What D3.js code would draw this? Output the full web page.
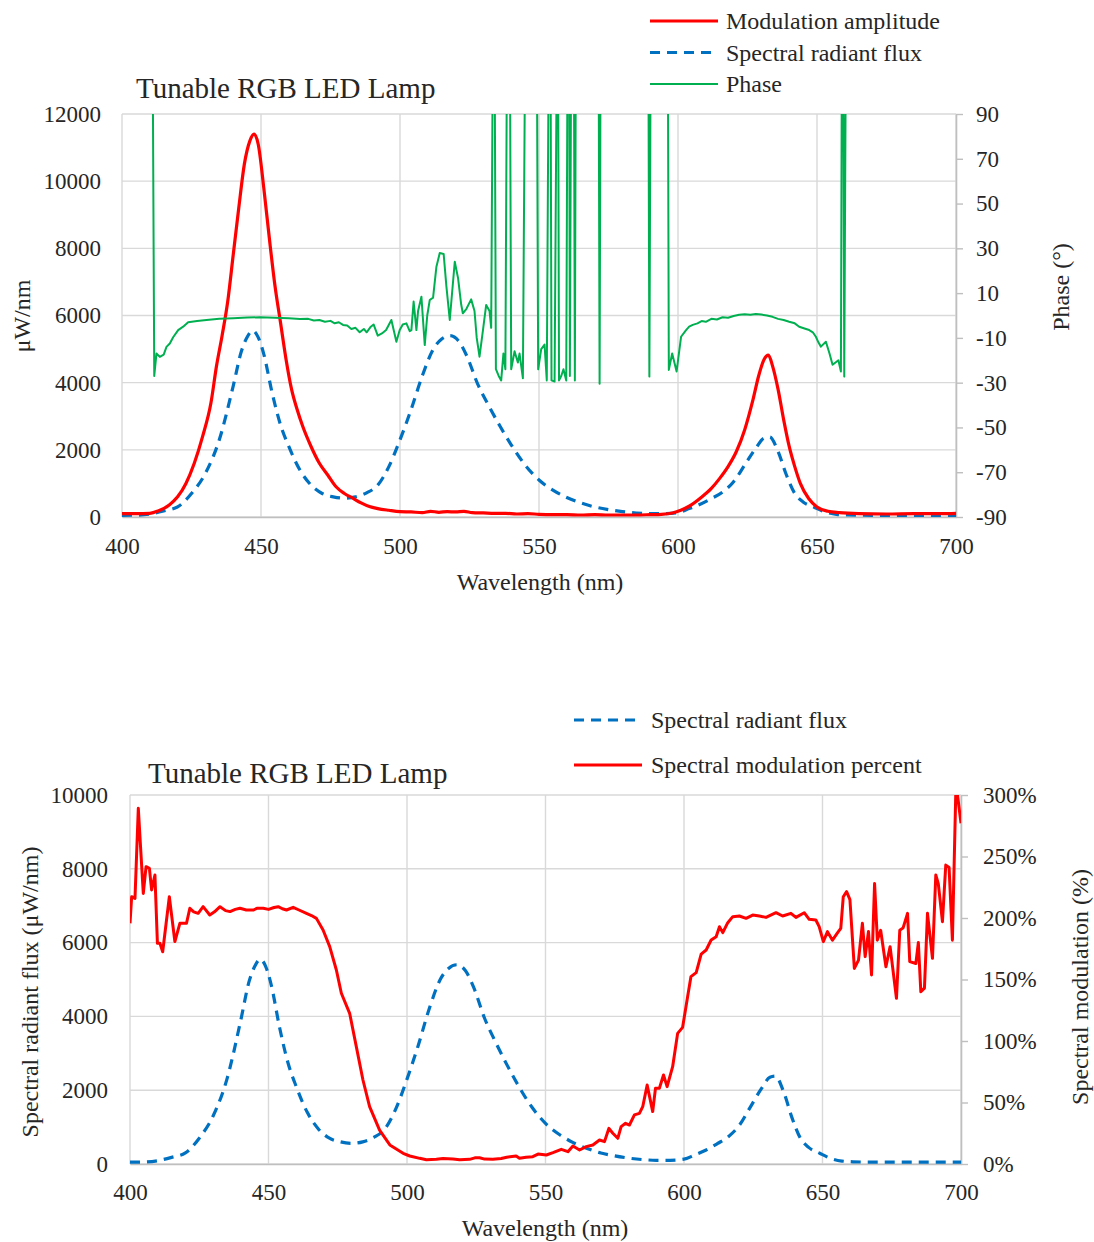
<!DOCTYPE html>
<html>
<head>
<meta charset="utf-8">
<script src="https://cdn.jsdelivr.net/npm/d3@7"></script>
<style>
  html, body { margin: 0; padding: 0; background: #fff; }
  svg text { font-family: "Liberation Serif", "Times New Roman", serif; fill: #262626; }
</style>
</head>
<body>
<svg id="chart" width="1094" height="1242"></svg>
<script>
// ---------------- DATA ----------------
const xTicks = [400, 450, 500, 550, 600, 650, 700];
const ampTicks = [0, 2000, 4000, 6000, 8000, 10000, 12000];
const phaseTicks = [-90, -70, -50, -30, -10, 10, 30, 50, 70, 90];
const fluxTicks = [0, 2000, 4000, 6000, 8000, 10000];
const pctTicks = [0, 50, 100, 150, 200, 250, 300];

const title = "Tunable RGB LED Lamp";

// Spectral radiant flux (µW/nm) [wavelength, value]
const fluxData = [
  [400,50],[405,55],[410,90],[415,180],[420,300],[425,700],[430,1300],[435,2300],[440,3900],
  [443,4950],[445,5350],[447,5550],[449,5350],[451,4850],[454,3700],[457,2750],[460,2100],
  [464,1400],[468,950],[472,700],[476,600],[480,560],[484,600],[488,720],[492,950],[496,1500],
  [500,2300],[504,3200],[508,4200],[512,5000],[515,5300],[518,5400],[521,5250],[524,4800],
  [528,3950],[532,3300],[536,2700],[540,2150],[545,1550],[550,1100],[555,800],[560,580],
  [565,420],[570,300],[575,220],[580,160],[585,120],[590,100],[595,100],[600,130],[604,250],
  [608,380],[612,550],[616,740],[620,1050],[624,1550],[628,2050],[631,2350],[633,2380],
  [636,1950],[639,1250],[642,700],[645,450],[649,290],[653,150],[657,80],[661,60],[670,50],
  [680,50],[690,50],[700,50]
];

// Modulation amplitude (µW/nm)
const ampData = [
  [400,100],[405,100],[410,110],[413,180],[417,360],[420,600],[423,1000],[426,1600],[429,2400],
  [432,3400],[434,4500],[436,5400],[438,6400],[440,7800],[442,9200],[444,10500],[446,11200],
  [447.5,11400],[449,11100],[451,9800],[453,8300],[455,6900],[457,5800],[459,4700],[461,3800],
  [463,3200],[465,2700],[468,2100],[471,1600],[474,1250],[477,900],[480,700],[483,560],[486,420],
  [489,310],[492,250],[496,200],[500,160],[504,150],[508,130],[511,170],[514,140],[517,160],
  [520,150],[523,170],[526,130],[530,120],[534,110],[538,110],[542,90],[546,100],[550,80],
  [555,70],[560,70],[565,60],[570,70],[575,60],[580,60],[585,60],[590,70],[594,80],[598,120],
  [601,200],[604,320],[608,560],[612,850],[615,1150],[618,1500],[621,1950],[624,2600],
  [627,3500],[629,4200],[631,4700],[632.5,4820],[634,4500],[636,3800],[638,2900],[640,2100],
  [642,1500],[644,1000],[647,550],[650,300],[654,170],[658,130],[665,100],[675,90],[685,100],
  [695,100],[700,110]
];

// Phase (°) — values of 100 lie above the axis maximum (clipped)
const phaseData = [
  [400,100],[411.1,100],[411.6,-27],[412.4,-17],[413.6,-18.5],[415,-17.5],[416,-14],[417.2,-12.5],
  [418.4,-9.7],[420.2,-6.5],[422,-5],[423.8,-3],[427,-2.5],[430.4,-2],[435,-1.5],[440,-1.2],
  [445,-0.9],[449.6,-0.8],[455,-1],[460,-1.2],[464,-1.6],[467,-1.5],[469,-2.2],[471,-2],
  [473,-2.8],[475,-2.4],[476.5,-3.5],[478,-3],[479.5,-4.2],[481,-4.5],[482.5,-6],[484,-5.5],
  [485.5,-7.5],[487,-6],[488,-7.5],[489.5,-5],[490.5,-4],[492,-9],[493.5,-8],[495,-6.5],
  [496.9,-2],[498.7,-11.7],[499.9,-6.5],[501,-4],[502.3,-3.5],[503.5,-7],[504.1,-6.5],
  [504.9,6.2],[505.9,-6.5],[506.5,2],[507.7,8.4],[508.9,-13.2],[509.8,0],[510.7,6.9],
  [511.9,8],[513.1,21.8],[514.3,27.9],[515.7,27.5],[516.7,12.9],[517.9,-2],[519.7,24],
  [520.9,16.6],[522,5],[522.6,1],[523.9,3],[525.6,7.2],[526.8,2],[527.6,-10],[528.6,-18.4],
  [529.8,-7],[531,4.7],[532.2,2],[532.8,-5.5],[533.3,100],[534.1,100],[534.5,-24],[535.5,-27],
  [536.4,-29],[537.2,-17],[537.9,-24],[538.4,100],[539.6,100],[540,-24],[541.2,-16],[542.4,-21],
  [543,-17],[544.2,-28],[544.9,100],[549.3,100],[549.7,-24],[550.8,-15],[552,-13],[552.8,-29],
  [553.4,100],[554.2,100],[554.5,-29],[555.6,-29.5],[556.3,100],[556.9,100],[557.2,-29],
  [558,-27],[558.8,-24],[559.8,-29],[560.2,100],[560.9,100],[561.1,-27],[561.5,100],
  [562.6,100],[562.9,-29],[563.2,100],[571.5,100],[571.8,-30.5],[572.1,100],[589.4,100],
  [589.7,-27.3],[590.1,100],[596.4,100],[596.7,-24.3],[597.9,-17],[599.5,-25],[601.1,-9.5],
  [602.9,-6.5],[604,-5],[605.3,-4.2],[607,-3.5],[608.5,-2.5],[610,-2.8],[612,-1.5],[614,-1.8],
  [616,-0.8],[618,-1],[620,-0.2],[622,0.3],[624,0.6],[626,0.3],[628,0.7],[630,0.4],[632,0],
  [634,-0.6],[636,-1.5],[638,-2],[640,-2.8],[642,-3.5],[643.6,-5],[645.5,-5.8],[647.2,-6.5],
  [648.5,-7.5],[649.6,-9.5],[650.5,-12],[651.4,-13.9],[653.2,-11.7],[654.5,-17],[655.6,-22],
  [657.7,-20],[658.6,-25],[658.9,100],[659.5,100],[659.8,-27.3],[660.3,100],[700,100]
];

// Spectral modulation percent (%)
const pctData = [
  [400,195.7],[400.6,217.3],[401.8,216],[403,289.2],[403.8,258],[404.8,220],[405.8,241.7],
  [407,240.4],[407.8,222.8],[409,235],[409.9,179.4],[410.8,179.4],[411.8,172.6],[414.2,217.3],
  [416.2,180.8],[418,195.7],[420.4,195.7],[421.6,207.9],[423,205],[424.6,203.8],[426.4,209.2],
  [428.8,202.4],[430.5,205],[432.5,209.2],[434.5,206],[436.1,205.2],[438,207],[439.7,207.9],
  [442,206.5],[444.5,206.5],[446,208],[448.1,207.9],[450,207],[452,208.5],[453.5,209.2],
  [455,207.5],[456.5,206.5],[458.9,208.7],[461,206.5],[463.7,203.8],[465.5,202],[467.3,199.7],
  [469.7,190.2],[472.1,176.7],[474.5,157.7],[476.3,138.8],[479.3,122.5],[481.7,95.4],
  [484.1,68.3],[486.5,46.6],[490.1,27.6],[493.8,15.5],[498.6,8.7],[501,6.5],[504.6,4.6],
  [507,3.5],[510.6,3.8],[513,4.5],[516.6,4.1],[519,3.5],[522.6,3.8],[524.5,5],[526.2,5.1],
  [528,4],[531,3.8],[534,4.5],[536,5.5],[539.4,6.5],[540.6,4.6],[543,5.5],[545.4,5.97],
  [547.3,8.1],[550.3,7.3],[552.7,9.2],[555.7,11.9],[558.1,10],[559.9,14.6],[562.3,11.4],
  [564.7,14.1],[567.1,15.5],[569.5,19.5],[571.3,18.2],[572.9,29],[574.3,25],[576.1,20.9],
  [577.3,30.4],[578.9,33.1],[580.3,31.7],[582.1,39.9],[583.9,41.2],[585.1,46.6],[586.7,64.2],
  [588.7,42.6],[589.7,61.5],[591.1,61.5],[592.6,72.4],[593.9,62.9],[595.9,79.1],[597.7,106.2],
  [599.5,111.1],[601.3,136],[602.5,152.3],[604.4,155.6],[606.2,170.7],[608,174],[609.8,182.1],
  [611.6,184.8],[612.8,192.9],[614,188.1],[615.8,196.2],[617.6,201.1],[620,201.6],[622.4,199.7],
  [624.8,202.4],[627.2,201.6],[629.6,200.5],[633.2,204.3],[635.6,201.6],[638.6,203.8],
  [640.4,200.5],[643.4,204.3],[645.2,198.9],[647.6,198.4],[648.8,193],[650.3,180.8],
  [651.8,188.9],[653.6,182],[655.4,187.9],[656.6,191.6],[657.5,217.3],[658.7,221.4],
  [659.9,215],[661.5,159],[663,165.8],[664.4,195.7],[665.4,168.6],[666.6,189],[667.7,153.7],
  [668.8,228],[669.8,182],[671,190],[672.9,160.4],[674.4,176.7],[676.7,134.7],[677.9,190],
  [679.1,192],[680.7,203.8],[681.5,164.5],[683.7,163],[684.6,180],[685.5,140],[686.8,143],
  [687.9,203.8],[689.7,167.2],[690.9,235],[691.8,228],[693.3,197],[694.5,243],[695.7,241],
  [696.9,182],[698.2,310],[700,277]
];

// ---------------- DRAW ----------------
const FONT = '"Liberation Serif", "Times New Roman", serif';
const svg = d3.select("#chart").attr("font-family", FONT);
svg.append("rect").attr("width", 1094).attr("height", 1242).attr("fill", "#fff");

const GRID = "#d9d9d9", AXIS = "#bfbfbf";
const RED = "#ff0000", BLUE = "#0070c0", GREEN = "#00b050";
const TICK_FS = 23, LBL_FS = 24, LEG_FS = 24, TITLE_FS = 29;

function styleTicks(g, fs) {
  g.attr("font-family", FONT);
  g.selectAll("text").style("font-size", fs + "px").style("font-family", FONT).attr("fill", "#262626");
}

function drawPanel(cfg) {
  const { x, yL, yR, yLTicks, yRTicks, clipId, leftPad, rightPad, rightFmt } = cfg;
  const [x0, x1] = x.range();
  const [yb, yt] = yL.range();

  const defs = svg.append("defs");
  defs.append("clipPath").attr("id", clipId)
    .append("rect").attr("x", x0).attr("y", yt).attr("width", x1 - x0).attr("height", yb - yt);

  const grid = svg.append("g");
  grid.selectAll("line.h").data(yLTicks).join("line")
    .attr("x1", x0).attr("x2", x1).attr("y1", d => yL(d)).attr("y2", d => yL(d))
    .attr("stroke", GRID).attr("stroke-width", 1.4);
  grid.selectAll("line.v").data(xTicks).join("line")
    .attr("y1", yt).attr("y2", yb).attr("x1", d => x(d)).attr("x2", d => x(d))
    .attr("stroke", GRID).attr("stroke-width", 1.4);

  const gx = svg.append("g").attr("transform", `translate(0,${yb})`)
    .call(d3.axisBottom(x).tickValues(xTicks).tickSize(0).tickPadding(cfg.xPad).tickFormat(d => String(d)));
  gx.select(".domain").attr("stroke", AXIS).attr("stroke-width", 1.4);
  styleTicks(gx, TICK_FS);

  const gl = svg.append("g").attr("transform", `translate(${x0},0)`)
    .call(d3.axisLeft(yL).tickValues(yLTicks).tickSize(0).tickPadding(leftPad).tickFormat(d => String(d)));
  gl.select(".domain").remove();
  styleTicks(gl, TICK_FS);

  const gr = svg.append("g").attr("transform", `translate(${x1},0)`)
    .call(d3.axisRight(yR).tickValues(yRTicks).tickSize(7).tickSizeOuter(0).tickPadding(rightPad).tickFormat(rightFmt));
  gr.select(".domain").attr("stroke", AXIS).attr("stroke-width", 1.6);
  gr.selectAll(".tick line").attr("stroke", AXIS).attr("stroke-width", 1.4);
  styleTicks(gr, TICK_FS);

  return svg.append("g").attr("clip-path", `url(#${clipId})`);
}

function line(x, y) {
  return d3.line().x(d => x(d[0])).y(d => y(d[1])).curve(d3.curveMonotoneX);
}
function lineLin(x, y) {
  return d3.line().x(d => x(d[0])).y(d => y(d[1]));
}
function addText(x, y, txt, fs, anchor, rotate) {
  const t = svg.append("text").style("font-size", fs + "px").style("font-family", FONT)
    .attr("fill", "#262626").text(txt);
  if (anchor) t.attr("text-anchor", anchor);
  if (rotate) t.attr("transform", `translate(${x},${y}) rotate(${rotate})`);
  else t.attr("x", x).attr("y", y);
  return t;
}

// ===== Top panel =====
const xT = d3.scaleLinear().domain([400, 700]).range([122, 956]);
const yAmp = d3.scaleLinear().domain([0, 12000]).range([517, 114]);
const yPh = d3.scaleLinear().domain([-90, 90]).range([517, 114]);

const topPlot = drawPanel({
  x: xT, yL: yAmp, yR: yPh, yLTicks: ampTicks, yRTicks: phaseTicks, clipId: "clipTop",
  leftPad: 21, rightPad: 13, xPad: 21, rightFmt: d => String(d)
});

topPlot.append("path").datum(fluxData).attr("d", line(xT, yAmp))
  .attr("fill", "none").attr("stroke", BLUE).attr("stroke-width", 3.2).attr("stroke-dasharray", "10,7");
topPlot.append("path").datum(ampData).attr("d", line(xT, yAmp))
  .attr("fill", "none").attr("stroke", RED).attr("stroke-width", 3.2).attr("stroke-linejoin", "round");
topPlot.append("path").datum(phaseData).attr("d", lineLin(xT, yPh))
  .attr("fill", "none").attr("stroke", GREEN).attr("stroke-width", 2).attr("stroke-linejoin", "round");

addText(136, 98, title, TITLE_FS);
addText(540, 590, "Wavelength (nm)", LBL_FS, "middle");
addText(30, 316, "μW/nm", LBL_FS, "middle", -90);
addText(1069, 287, "Phase (°)", LBL_FS, "middle", -90);

const legTop = [
  { label: "Modulation amplitude", color: RED, dash: null, w: 3.2 },
  { label: "Spectral radiant flux", color: BLUE, dash: "10,7", w: 3.2 },
  { label: "Phase", color: GREEN, dash: null, w: 2 }
];
legTop.forEach((d, i) => {
  const y = 21 + i * 31.5;
  svg.append("line").attr("x1", 650).attr("x2", 718).attr("y1", y).attr("y2", y)
    .attr("stroke", d.color).attr("stroke-width", d.w).attr("stroke-dasharray", d.dash);
  addText(726, y + 8, d.label, LEG_FS);
});

// ===== Bottom panel =====
const xB = d3.scaleLinear().domain([400, 700]).range([130, 961]);
const yFlux = d3.scaleLinear().domain([0, 10000]).range([1164, 795]);
const yPct = d3.scaleLinear().domain([0, 300]).range([1164, 795]);

const botPlot = drawPanel({
  x: xB, yL: yFlux, yR: yPct, yLTicks: fluxTicks, yRTicks: pctTicks, clipId: "clipBot",
  leftPad: 22, rightPad: 15, xPad: 20, rightFmt: d => d + "%"
});

botPlot.append("path").datum(fluxData).attr("d", line(xB, yFlux))
  .attr("fill", "none").attr("stroke", BLUE).attr("stroke-width", 3.2).attr("stroke-dasharray", "10,7");
botPlot.append("path").datum(pctData).attr("d", lineLin(xB, yPct))
  .attr("fill", "none").attr("stroke", RED).attr("stroke-width", 3).attr("stroke-linejoin", "round");

addText(148, 783, title, TITLE_FS);
addText(545, 1236, "Wavelength (nm)", LBL_FS, "middle");
addText(38, 992, "Spectral radiant flux (μW/nm)", LBL_FS, "middle", -90);
addText(1088, 987, "Spectral modulation (%)", LBL_FS, "middle", -90);

const legBot = [
  { label: "Spectral radiant flux", color: BLUE, dash: "10,7", w: 3.2 },
  { label: "Spectral modulation percent", color: RED, dash: null, w: 3.2 }
];
legBot.forEach((d, i) => {
  const y = 720 + i * 45;
  svg.append("line").attr("x1", 574).attr("x2", 642).attr("y1", y).attr("y2", y)
    .attr("stroke", d.color).attr("stroke-width", d.w).attr("stroke-dasharray", d.dash);
  addText(651, y + 8, d.label, LEG_FS);
});
</script>
</body>
</html>
